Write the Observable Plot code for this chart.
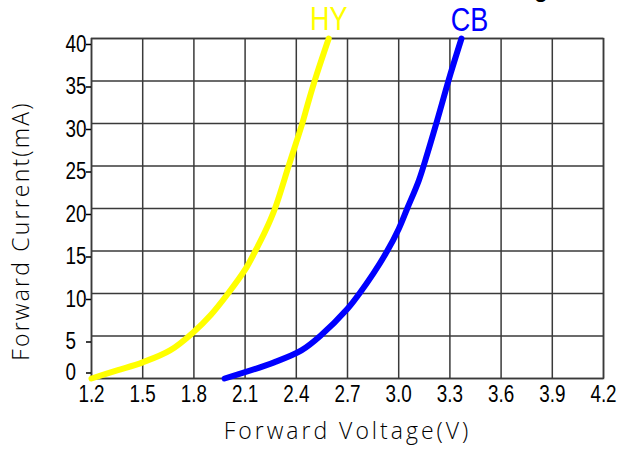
<!DOCTYPE html>
<html><head><meta charset="utf-8">
<script src="https://cdn.jsdelivr.net/npm/d3@7"></script>
<script src="https://cdn.jsdelivr.net/npm/@observablehq/plot@0.6"></script>
<style>
body{margin:0;background:#fff;}
#wrap{position:relative;width:619px;height:450px;overflow:hidden;}
#title{position:absolute;right:59px;top:-20.6px;font:bold 22px/22px "Liberation Sans",Arial,sans-serif;white-space:nowrap;color:#000;}
g[font-family="Open Sans"]{letter-spacing:3px;}
g[font-family="Open Sans, sans-serif"]{letter-spacing:2.2px;}
</style></head><body>
<div id="wrap"><div id="title">Forward Current vs. Forward Voltage</div><div id="chart"></div></div>
<script>
const xTicks = [1.2, 1.5, 1.8, 2.1, 2.4, 2.7, 3.0, 3.3, 3.6, 3.9, 4.2];
const yTicks = [0, 5, 10, 15, 20, 25, 30, 35, 40];
const seriesNames = ["HY", "CB"];
const seriesColors = ["#ffff00", "#0000ff"];
const hyVoltage = [1.2, 1.35, 1.5, 1.66, 1.8, 1.9, 2.0, 2.1, 2.16, 2.22, 2.275, 2.355, 2.4, 2.435, 2.473, 2.52, 2.59];
const hyCurrent = [0, 0.95, 1.9, 3.3, 5.5, 7.5, 10, 12.8, 15, 17.4, 20, 25, 27.8, 30, 32.7, 35.8, 40];
const cbVoltage = [1.98, 2.27, 2.43, 2.54, 2.7, 2.77, 2.85, 2.93, 3.0, 3.05, 3.118, 3.167, 3.226, 3.303, 3.368];
const cbCurrent = [0, 1.9, 3.3, 5, 8.2, 10, 12.3, 14.9, 17.6, 20, 23.3, 26.4, 30.4, 35.8, 40];
const xTitle = "Forward Voltage(V)";
const yTitle = "Forward Current(mA)";

const rows = [
  ...hyVoltage.map((v, i) => ({series: "HY", v, c: hyCurrent[i]})),
  ...cbVoltage.map((v, i) => ({series: "CB", v, c: cbCurrent[i]}))
];
const ends = [
  {series: "HY", v: hyVoltage[hyVoltage.length - 1], c: hyCurrent[hyCurrent.length - 1]},
  {series: "CB", v: cbVoltage[cbVoltage.length - 1], c: cbCurrent[cbCurrent.length - 1]}
];
const tickFont = "Liberation Sans";
const gridColor = "#3a3a3a";

const chart = Plot.plot({
  width: 619, height: 450,
  marginLeft: 91, marginRight: 16, marginTop: 38, marginBottom: 72,
  x: {domain: [1.2, 4.2]},
  y: {domain: [0, 40]},
  color: {domain: seriesNames, range: seriesColors},
  style: {fontFamily: tickFont, color: "#000", background: "#fff"},
  marks: [
    Plot.ruleX(xTicks, {stroke: gridColor, strokeWidth: 1.5}),
    Plot.ruleY(yTicks, {stroke: gridColor, strokeWidth: 1.5}),
    Plot.frame({stroke: gridColor, strokeWidth: 1.5}),
    Plot.axisX(xTicks, {tickSize: 0, tickPadding: 7, fontSize: 23, fontFamily: tickFont, tickFormat: d => d.toFixed(1), label: null}),
    Plot.axisY(yTicks.filter(d => d > 0), {tickSize: 5, tickPadding: 21, textAnchor: "start", fontSize: 23, fontFamily: tickFont, dy: 6, label: null, strokeWidth: 1.5}),
    Plot.axisY(yTicks.filter(d => d === 0), {tickSize: 5, tickPadding: 21, textAnchor: "start", fontSize: 23, fontFamily: tickFont, dy: -5.5, label: null, strokeWidth: 1.5}),
    Plot.line(rows, {x: "v", y: "c", z: "series", stroke: "series", strokeWidth: 6, curve: "catmull-rom", strokeLinecap: "round", strokeLinejoin: "round"}),
    Plot.text(ends.filter(d => d.series === "HY"), {x: "v", y: "c", text: "series", fill: "series", fontSize: 33, fontFamily: tickFont, lineAnchor: "bottom", dy: -9}),
    Plot.text(ends.filter(d => d.series === "CB"), {x: "v", y: "c", text: "series", fill: "series", fontSize: 33, fontFamily: tickFont, lineAnchor: "bottom", dy: -8, dx: 8}),
    Plot.text([xTitle], {text: d => d, frameAnchor: "bottom", lineAnchor: "bottom", dy: 60, dx: 0, fontSize: 23, fontFamily: "Open Sans", fontWeight: 300, fill: "#000"}),
    Plot.text([yTitle], {text: d => d, frameAnchor: "left", textAnchor: "middle", rotate: -90, dx: -70, dy: 22.5, fontSize: 23, fontFamily: "Open Sans, sans-serif", fontWeight: 300, fill: "#000"})
  ]
});

// narrow the condensed-looking tick and series labels horizontally
chart.querySelectorAll(`g[font-family="${tickFont}"] text`).forEach(t => {
  const tr = t.getAttribute("transform");
  if (tr) {
    t.setAttribute("transform", tr + " scale(0.82,1)");
  } else {
    const x = +t.getAttribute("x") || 0, y = +t.getAttribute("y") || 0;
    t.removeAttribute("x"); t.removeAttribute("y");
    t.setAttribute("transform", `translate(${x},${y}) scale(0.82,1)`);
  }
});
document.getElementById("chart").appendChild(chart);
</script>
</body></html>
